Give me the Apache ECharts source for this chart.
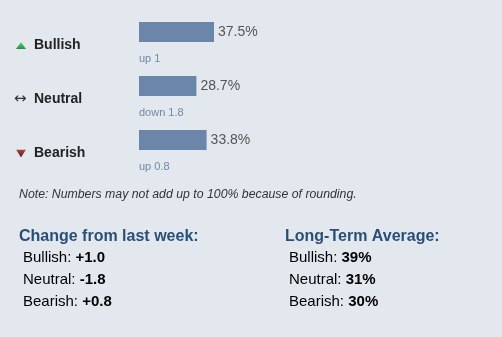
<!DOCTYPE html>
<html>
<head>
<meta charset="utf-8">
<script src="https://cdn.jsdelivr.net/npm/echarts@6/dist/echarts.min.js"></script>
<style>
  html, body { margin: 0; padding: 0; background: #e3e8ef; }
  #chart { width: 502px; height: 337px; }
</style>
</head>
<body>
<div id="chart"></div>
<script>
// Weekly sentiment survey results
const categories = ['Bullish', 'Neutral', 'Bearish'];
const sentiment = [37.5, 28.7, 33.8];
const weeklyChange = [1.0, -1.8, 0.8];
const longTermAverage = [39, 31, 30];
const noteText = 'Note: Numbers may not add up to 100% because of rounding.';
const changeTitle = 'Change from last week:';
const averageTitle = 'Long-Term Average:';

const FONT = '"Liberation Sans", Arial, sans-serif';
const icons = { Bullish: 'up', Neutral: 'flat', Bearish: 'down' };

// small triangle glyphs for the direction markers
function svgIcon(body, w, h) {
  const svg = "<svg xmlns='http://www.w3.org/2000/svg' width='" + w + "' height='" + h + "'>" + body + '</svg>';
  return 'data:image/svg+xml;charset=utf-8,' + encodeURIComponent(svg);
}
const upIcon = svgIcon(
  "<defs><linearGradient id='g' x1='0' y1='0' x2='0' y2='1'><stop offset='0' stop-color='#66d47a'/><stop offset='1' stop-color='#1f8f3c'/></linearGradient></defs>" +
  "<polygon points='5,0 10,7 0,7' fill='url(#g)'/>", 10, 7);
const downIcon = svgIcon(
  "<defs><linearGradient id='g' x1='0' y1='0' x2='0' y2='1'><stop offset='0' stop-color='#a54848'/><stop offset='1' stop-color='#5a1c1c'/></linearGradient></defs>" +
  "<polygon points='0,0 10,0 5,8' fill='url(#g)'/>", 10, 8);

function changeWords(v) {
  return (v >= 0 ? 'up ' : 'down ') + Math.abs(v);
}
function signed(v) {
  return (v > 0 ? '+' : '') + v.toFixed(1);
}

const chart = echarts.init(document.getElementById('chart'), null, { renderer: 'canvas' });

const graphics = [];
graphics.push({
  type: 'text', x: 19, y: 195,
  style: { text: noteText, font: 'italic 12.3px ' + FONT, fill: '#333', verticalAlign: 'middle' }
});
graphics.push({
  type: 'text', x: 19, y: 237,
  style: { text: changeTitle, font: 'bold 16px ' + FONT, fill: '#2a4f77', verticalAlign: 'middle' }
});
graphics.push({
  type: 'text', x: 285, y: 237,
  style: { text: averageTitle, font: 'bold 16px ' + FONT, fill: '#2a4f77', verticalAlign: 'middle' }
});
const rich = {
  l: { fontFamily: FONT, fontSize: 15, color: '#333' },
  v: { fontFamily: FONT, fontSize: 15, fontWeight: 'bold', color: '#222' }
};
categories.forEach(function (c, i) {
  graphics.push({
    type: 'text', x: 23, y: 258 + i * 22,
    style: { text: '{l|' + c + ': }{v|' + signed(weeklyChange[i]) + '}', rich: rich, verticalAlign: 'middle' }
  });
  graphics.push({
    type: 'text', x: 289, y: 258 + i * 22,
    style: { text: '{l|' + c + ': }{v|' + longTermAverage[i] + '%}', rich: rich, verticalAlign: 'middle' }
  });
});

chart.setOption({
  backgroundColor: '#e3e8ef',
  animation: false,
  grid: { left: 139, top: 5, width: 200, height: 162 },
  xAxis: { type: 'value', min: 0, max: 100, show: false },
  yAxis: {
    type: 'category',
    data: categories,
    inverse: true,
    axisLine: { show: false },
    axisTick: { show: false },
    splitLine: { show: false },
    axisLabel: {
      align: 'left',
      margin: 125,
      padding: [27, 0, 0, 0],
      formatter: function (val) {
        const k = icons[val];
        if (k === 'flat') return '{flat|\u2194}{name|' + val + '}';
        return '{gap| }{' + k + '| }{name|' + val + '}';
      },
      rich: {
        gap: { width: 2, fontSize: 14 },
        up: { width: 10, height: 7, backgroundColor: { image: upIcon } },
        down: { width: 10, height: 8, backgroundColor: { image: downIcon } },
        flat: { color: '#333', fontSize: 15, width: 12, align: 'left', fontFamily: '"DejaVu Sans", ' + FONT },
        name: { fontFamily: FONT, fontSize: 14, fontWeight: 'bold', color: '#222', padding: [0, 0, 0, 8] }
      }
    }
  },
  series: [
    {
      type: 'bar',
      data: sentiment,
      barWidth: 20,
      itemStyle: { color: '#6b86a8' },
      label: {
        show: true,
        position: 'right',
        distance: 4,
        formatter: '{c}%',
        fontFamily: FONT,
        fontSize: 14,
        color: '#555'
      }
    },
    {
      type: 'custom',
      data: categories.map(function (c, i) { return [0, c, i]; }),
      encode: { x: 0, y: 1 },
      renderItem: function (params, api) {
        const p = api.coord([api.value(0), api.value(1)]);
        const i = api.value(2);
        return {
          type: 'text',
          x: p[0],
          y: p[1] + 27,
          style: {
            text: changeWords(weeklyChange[i]),
            font: '11px ' + FONT,
            fill: '#6f89ab',
            verticalAlign: 'middle'
          }
        };
      }
    }
  ],
  graphic: graphics
});
</script>
</body>
</html>
